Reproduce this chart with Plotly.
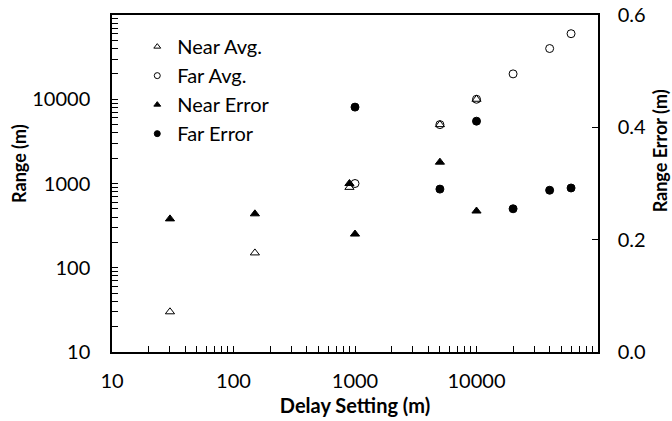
import plotly.graph_objects as go

# Data
near_avg_x = [30, 150, 900, 5000, 10000]
near_avg_y = [30, 150, 900, 5000, 10000]
far_avg_x = [1000, 5000, 10000, 20000, 40000, 60000]
far_avg_y = [1000, 5000, 10000, 20000, 40000, 60000]
near_err_x = [30, 150, 900, 1000, 5000, 10000]
near_err_y = [0.237, 0.246, 0.30, 0.21, 0.338, 0.251]
far_err_x = [1000, 5000, 10000, 20000, 40000, 60000]
far_err_y = [0.436, 0.29, 0.411, 0.255, 0.288, 0.292]

series_names = ["Near Avg.", "Far Avg.", "Near Error", "Far Error"]
symbols = ["triangle-up-open", "circle-open", "triangle-up", "circle"]

log_major = [10, 100, 1000, 10000]
log_major_text = ["10", "100", "1000", "10000"]
log_minor = [m * d for d in (10, 100, 1000, 10000) for m in range(2, 10)]
err_ticks = [0, 0.2, 0.4, 0.6]
err_text = ["0.0", "0.2", "0.4", "0.6"]

log_tickvals = log_major + log_minor
log_ticktext = log_major_text + [""] * len(log_minor)

FONT = "Lato"
fig = go.Figure()

data = [
    (near_avg_x, near_avg_y, "y"),
    (far_avg_x, far_avg_y, "y"),
    (near_err_x, near_err_y, "y2"),
    (far_err_x, far_err_y, "y2"),
]
for (xs, ys, ax), name, sym in zip(data, series_names, symbols):
    fig.add_trace(go.Scatter(
        x=xs, y=ys, mode="markers", name=name, yaxis=ax, showlegend=False,
        marker=dict(symbol=sym, size=8, color="black", line=dict(color="black", width=1)),
    ))

# legend proxies (smaller symbols)
for i, (name, sym) in enumerate(zip(series_names, symbols)):
    fig.add_trace(go.Scatter(
        x=[None], y=[None], mode="markers", name=name, legendgroup=f"g{i}",
        marker=dict(symbol=sym, size=6, color="black", line=dict(color="black", width=1)),
    ))

fig.update_layout(
    width=672, height=421,
    margin=dict(l=112, r=74, t=15, b=69),
    paper_bgcolor="white", plot_bgcolor="white",
    font=dict(family=FONT, size=20, color="black"),
    legend=dict(
        x=0.052, y=0.964, xanchor="left", yanchor="top",
        bgcolor="rgba(0,0,0,0)", font=dict(size=20),
        itemwidth=30, traceorder="grouped", tracegroupgap=0,
    ),
    xaxis=dict(
        type="log", range=[1, 5], showgrid=False, zeroline=False, automargin=False,
        showline=True, linecolor="black", linewidth=1.5, mirror=True,
        ticks="inside", ticklen=6, tickcolor="black", tickwidth=1,
        tickvals=log_tickvals, ticktext=log_ticktext,
        ticklabelstandoff=10,
        title=dict(text="<b>Delay Setting (m)</b>", font=dict(size=20), standoff=8),
    ),
    yaxis=dict(
        type="log", range=[1, 5], showgrid=False, zeroline=False, automargin=False,
        showline=True, linecolor="black", linewidth=1.5, mirror=True,
        ticks="inside", ticklen=6, tickcolor="black", tickwidth=1,
        tickvals=log_tickvals, ticktext=log_ticktext,
        ticklabelstandoff=16,
    ),
    yaxis2=dict(
        overlaying="y", side="right", range=[0, 0.6], showgrid=False, zeroline=False,
        automargin=False,
        showline=True, linecolor="black", linewidth=1.5,
        ticks="inside", ticklen=6, tickcolor="black",
        tickvals=err_ticks, ticktext=err_text,
        ticklabelstandoff=14,
    ),
    annotations=[
        dict(text="<b>Range (m)</b>", xref="paper", yref="paper", x=-0.1914, y=0.561,
             textangle=-90, showarrow=False, font=dict(size=18),
             xanchor="center", yanchor="middle"),
        dict(text="<b>Range Error (m)</b>", xref="paper", yref="paper", x=1.128, y=0.596,
             textangle=-90, showarrow=False, font=dict(size=18),
             xanchor="center", yanchor="middle"),
    ],
)

fig.write_html("out.html")
